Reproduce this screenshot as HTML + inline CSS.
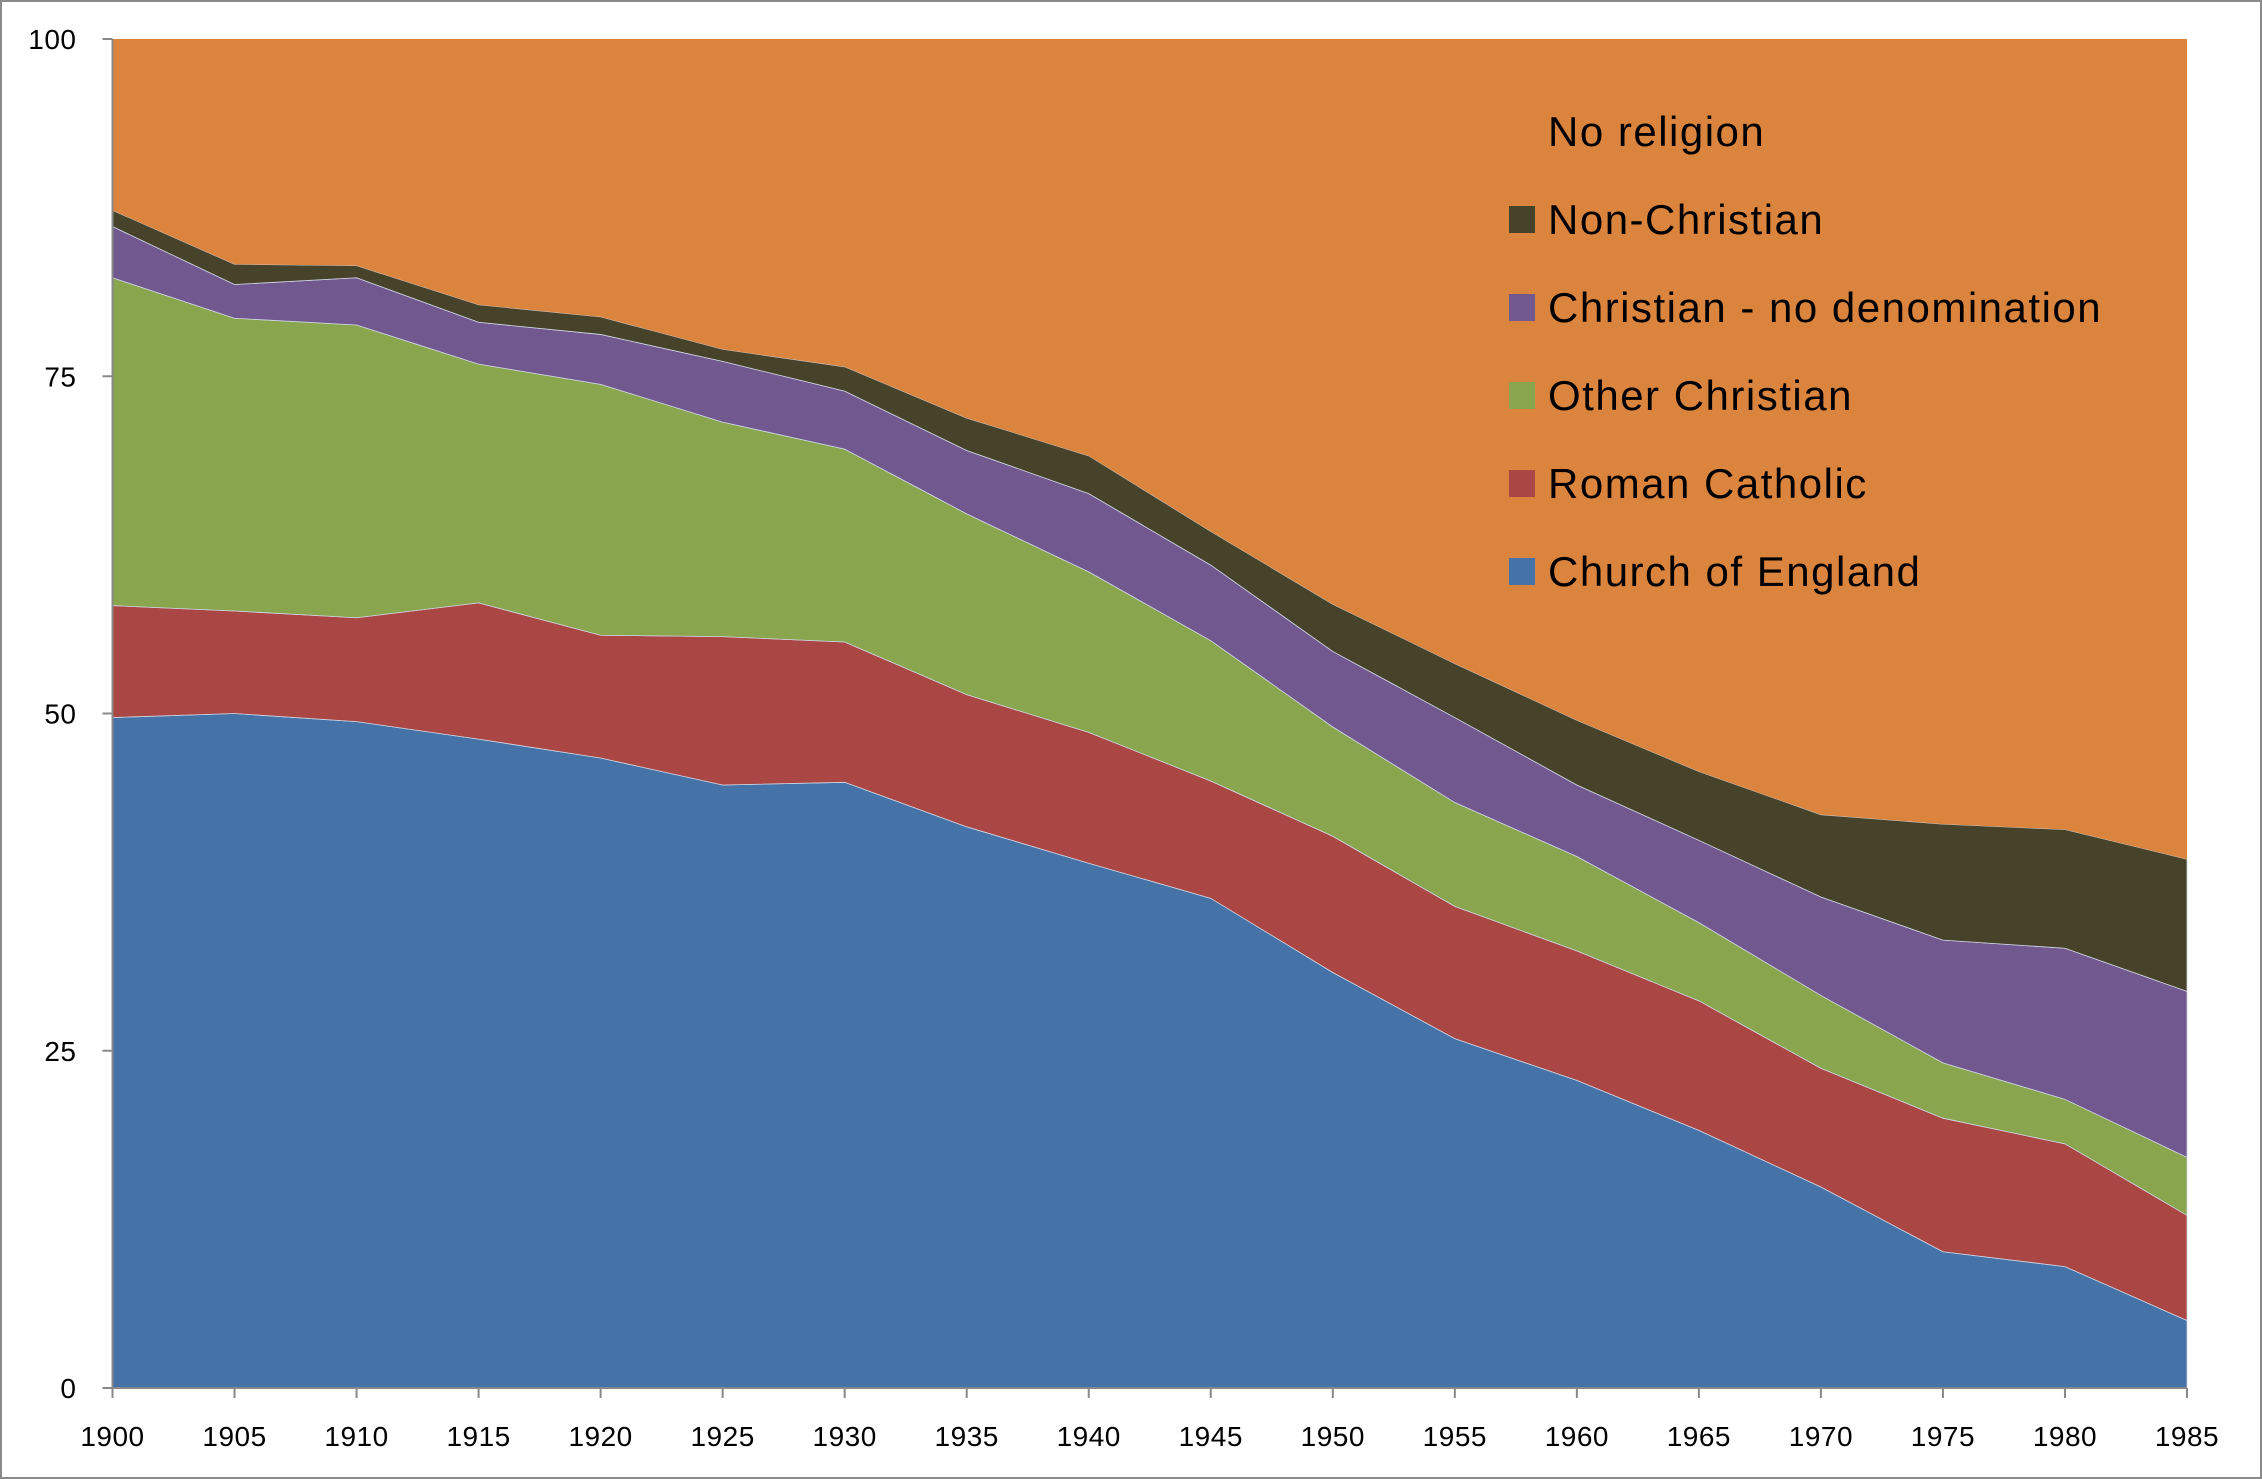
<!DOCTYPE html>
<html><head><meta charset="utf-8"><style>
html,body{margin:0;padding:0;background:#fff;}
svg{display:block;font-family:"Liberation Sans",sans-serif;}
</style></head><body>
<svg id="chart" width="2262" height="1479" viewBox="0 0 2262 1479">
<rect x="1" y="1" width="2260" height="1477" fill="#fff" stroke="#8a8a8a" stroke-width="2"/>
<g id="areas"></g>
<g id="axes"></g>
<g id="legend"></g>
</svg>
<script>
const years = [1900,1905,1910,1915,1920,1925,1930,1935,1940,1945,1950,1955,1960,1965,1970,1975,1980,1985];
const churchOfEngland = [49.7,50.0,49.4,48.1,46.7,44.7,44.9,41.6,38.9,36.3,30.8,25.9,22.8,19.1,14.9,10.1,9.0,5.0];
const romanCatholic = [8.3,7.6,7.7,10.1,9.1,11.0,10.4,9.8,9.7,8.7,10.1,9.8,9.6,9.6,8.8,9.9,9.1,7.8];
const otherChristian = [24.3,21.7,21.7,17.7,18.6,15.9,14.3,13.4,11.9,10.4,8.1,7.7,7.0,5.8,5.4,4.1,3.3,4.3];
const christianNoDenom = [3.8,2.5,3.5,3.1,3.7,4.5,4.3,4.7,5.8,5.6,5.6,6.3,5.3,6.1,7.3,9.1,11.2,12.3];
const nonChristian = [1.2,1.5,0.9,1.3,1.3,0.9,1.8,2.4,2.8,2.5,3.5,4.0,4.8,5.1,6.1,8.6,8.8,9.8];
const noReligion = [12.7,16.7,16.8,19.7,20.6,23.0,24.3,28.1,30.9,36.5,41.9,46.3,50.5,54.3,57.5,58.2,58.6,60.8];
const yTicks = [0,25,50,75,100];
const seriesNames = ["Church of England","Roman Catholic","Other Christian","Christian - no denomination","Non-Christian","No religion"];

const NS="http://www.w3.org/2000/svg";
const X0=112.5,X1=2187,Y0=1388,Y1=39;
const xS=y=>X0+(y-years[0])/(years[years.length-1]-years[0])*(X1-X0);
const yS=v=>Y0-v/100*(Y0-Y1);
function mk(t,a,p){const e=document.createElementNS(NS,t);for(const k in a)e.setAttribute(k,a[k]);p.appendChild(e);return e;}

const series=[churchOfEngland,romanCatholic,otherChristian,christianNoDenom,nonChristian,noReligion];
const colors=["#4572A7","#AA4643","#89A54E","#71588F","#47422A","#DB843D"];
const keys=["church-of-england","roman-catholic","other-christian","christian-no-denomination","non-christian","no-religion"];
const areas=document.getElementById('areas');
let base=years.map(()=>0);
series.forEach((s,i)=>{
  const top=base.map((b,j)=>b+s[j]);
  let d="M"+years.map((y,j)=>xS(y)+","+yS(top[j])).join(" L");
  for(let j=years.length-1;j>=0;j--)d+=" L"+xS(years[j])+","+yS(base[j]);
  d+="Z";
  const p=mk('path',{d:d,fill:colors[i],stroke:i<5?"#cfd6e3":"none","stroke-width":i<5?0.8:0},areas);
  
  
  base=top;
});

const ax=document.getElementById('axes');
let l=mk('line',{x1:X0,y1:Y1,x2:X0,y2:Y0,stroke:"#888","stroke-width":2},ax);


l=mk('line',{x1:X0,y1:Y0,x2:X1,y2:Y0,stroke:"#888","stroke-width":2},ax);


yTicks.forEach(v=>{
  const tk=mk('line',{x1:X0-10,y1:yS(v),x2:X0,y2:yS(v),stroke:"#888","stroke-width":2},ax);
  
  
  const t=mk('text',{x:X0-36,y:yS(v)+10,"text-anchor":"end","font-size":28,"letter-spacing":0.5,fill:"#000"},ax);
  t.textContent=v;
  
  
});
years.forEach(y=>{
  const tk=mk('line',{x1:xS(y),y1:Y0,x2:xS(y),y2:Y0+10,stroke:"#888","stroke-width":2},ax);
  
  
  const t=mk('text',{x:xS(y),y:1446,"text-anchor":"middle","font-size":28,"letter-spacing":0.5,fill:"#000"},ax);
  t.textContent=y;
  
  
});

const lg=document.getElementById('legend');
for(let k=0;k<6;k++){
  const i=5-k;
  const cy=131+k*88;
  if(i<5){
    const r=mk('rect',{x:1509,y:cy-13,width:26,height:27,fill:colors[i]},lg);
    
    
  }
  const t=mk('text',{x:1548,y:cy+15,"font-size":42,"letter-spacing":1.5,fill:"#000"},lg);
  t.textContent=seriesNames[i];
  
  
}
</script>
</body></html>
